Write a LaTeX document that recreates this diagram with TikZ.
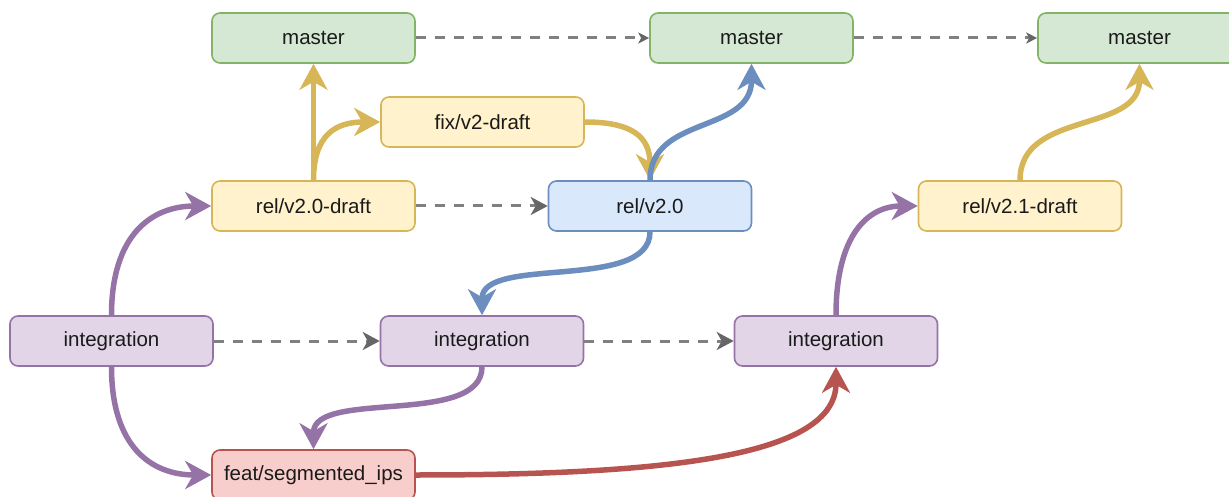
\documentclass[tikz,border=0pt]{standalone}
\usepackage{fontspec}
\setmainfont{Liberation Sans}
\usetikzlibrary{arrows.meta}

\definecolor{grnF}{HTML}{D5E8D4}\definecolor{grnD}{HTML}{82B366}
\definecolor{ylwF}{HTML}{FFF2CC}\definecolor{ylwD}{HTML}{D6B656}
\definecolor{bluF}{HTML}{DAE8FC}\definecolor{bluD}{HTML}{6C8EBF}
\definecolor{purF}{HTML}{E1D5E7}\definecolor{purD}{HTML}{9673A6}
\definecolor{redF}{HTML}{F8CECC}\definecolor{redD}{HTML}{B85450}
\definecolor{dashC}{HTML}{808080}\definecolor{dashH}{HTML}{666666}
\definecolor{txt}{HTML}{1A1A1A}

\tikzset{
  branch/.style={draw, rounded corners=8pt, line width=1.6pt,
    minimum width=203pt, minimum height=50pt, inner sep=0pt,
    font=\fontsize{20.5}{24}\selectfont, text=txt},
  green/.style={branch, fill=grnF, draw=grnD},
  yellow/.style={branch, fill=ylwF, draw=ylwD},
  blue/.style={branch, fill=bluF, draw=bluD},
  purple/.style={branch, fill=purF, draw=purD},
  red/.style={branch, fill=redF, draw=redD},
  flow/.style={line width=5.5pt, draw=#1,
    -{Stealth[length=26pt, width=28pt, inset=8pt, color=#1]}},
  next/.style={dashC, line width=3pt, dash pattern=on 10pt off 9pt,
    -{Stealth[length=17pt, width=18pt, inset=5pt, color=dashH]}},
  nextsmall/.style={next,
    -{Stealth[length=11pt, width=11pt, inset=3pt, color=dashH]}},
}

\begin{document}
\begin{tikzpicture}[x=1pt, y=-1pt]
\useasboundingbox (0,0) rectangle (1229,497);
\clip (0,0) rectangle (1229,497);

% branch nodes
\node[green]  (m1)   at (313.5,38)  {master};
\node[green]  (m2)   at (751.5,38)  {master};
\node[green]  (m3)   at (1139.5,38) {master};
\node[yellow] (fix)  at (482.5,122) {fix/v2-draft};
\node[yellow] (d20)  at (313.5,206) {rel/v2.0-draft};
\node[blue]   (r20)  at (650,206)   {rel/v2.0};
\node[yellow] (d21)  at (1020,206)  {rel/v2.1-draft};
\node[purple] (i1)   at (111.5,341) {integration};
\node[purple] (i2)   at (482,341)   {integration};
\node[purple] (i3)   at (836,341)   {integration};
\node[red]    (feat) at (313.5,475) {feat/segmented\_ips};

% timeline of each branch
\draw[nextsmall] (m1.east) -- (m2.west);
\draw[nextsmall] (m2.east) -- (m3.west);
\draw[next] (d20.east) -- (r20.west);
\draw[next] (i1.east) -- (i2.west);
\draw[next] (i2.east) -- (i3.west);

% merges and forks
\draw[flow=ylwD] (d20.north) -- (m1.south);
\draw[flow=ylwD] (d20.north) .. controls +(0,-45) and +(-45,0) .. (fix.west);
\draw[flow=ylwD] (fix.east) .. controls +(45,0) and +(0,-45) .. (r20.north);
\draw[flow=bluD] (r20.north) .. controls +(0,-65) and +(0,70) .. (m2.south);
\draw[flow=bluD] (r20.south) .. controls +(0,60) and +(0,-60) .. (i2.north);
\draw[flow=purD] (i1.north) .. controls +(0,-80) and +(-60,0) .. (d20.west);
\draw[flow=purD] (i1.south) .. controls +(0,80) and +(-60,0) .. (feat.west);
\draw[flow=purD] (i2.south) .. controls +(0,60) and +(0,-60) .. (feat.north);
\draw[flow=redD] (feat.east) .. controls +(250,0) and +(0,90) .. (i3.south);
\draw[flow=purD] (i3.north) .. controls +(0,-80) and +(-50,0) .. (d21.west);
\draw[flow=ylwD] (d21.north) .. controls +(0,-70) and +(0,70) .. (m3.south);
\end{tikzpicture}
\end{document}
